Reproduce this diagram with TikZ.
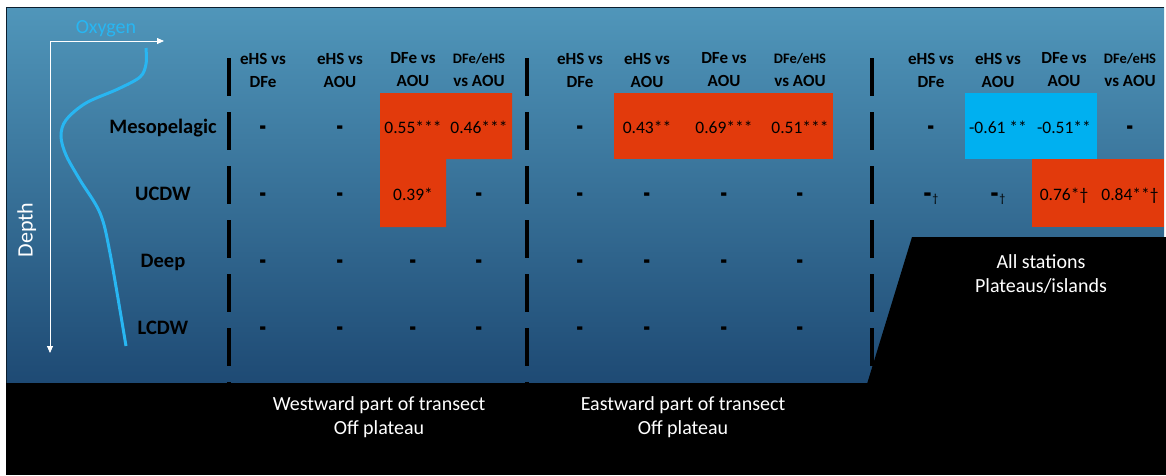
\documentclass[tikz,border=0pt]{standalone}
\usepackage{fontspec}
\usepackage{graphicx}
\setmainfont{Carlito}
\usetikzlibrary{arrows.meta}
\definecolor{naranja}{RGB}{226,58,12}
\definecolor{celeste}{RGB}{0,176,240}
\definecolor{azulOx}{RGB}{40,182,242}
\definecolor{marArriba}{RGB}{80,150,186}
\definecolor{marAbajo}{RGB}{30,74,116}
\tikzset{
  cabecera/.style={align=center, font=\fontsize{17}{23}\selectfont\bfseries},
  capa/.style={anchor=base, font=\fontsize{20.5}{24}\selectfont\bfseries},
  valor/.style={anchor=base, font=\fontsize{17.5}{20}\selectfont},
  nada/.style={anchor=base, font=\fontsize{17.5}{20}\selectfont\bfseries},
  rotulo/.style={align=center, text=white, font=\fontsize{20}{24}\selectfont},
  separador/.style={line width=4pt, dash pattern=on 38pt off 16pt},
}
\newcommand{\raya}{\raisebox{-5.5pt}{\scalebox{0.85}[2.2]{–}}}
\newcommand{\cruz}{{\fontsize{12}{12}\selectfont\mdseries\raisebox{-2.5pt}{†}}}

\begin{document}
\begin{tikzpicture}[x=1pt,y=-1pt]
\useasboundingbox (0,0) rectangle (1166,475);
% fondo: agua con degradado
\shade[top color=marArriba, bottom color=marAbajo] (6,7) rectangle (1164,383);
\draw[line width=1pt, draw=black!60!marAbajo] (6,383) -- (6,7) -- (1164,7);
% separadores de grupos
\foreach \x in {229,527,872} {
    \draw[separador] (\x,58) -- (\x,386);
}
% cajas de color
\fill[naranja] (380,93) -- (512,93) -- (512,159) -- (446,159) -- (446,227) -- (380,227) -- cycle;
\fill[naranja] (614,93) rectangle (833,159);
\fill[celeste] (965,93) rectangle (1097,159);
\fill[naranja] (1032,159) rectangle (1164,227);
% fondo negro y meseta
\fill[black] (6,383) rectangle (1166,475);
\fill[black] (867,384) -- (912,237) -- (1166,237) -- (1166,384) -- cycle;
% ejes oxigeno / profundidad
\coordinate (origen) at (50,41);
\coordinate (finOx) at (164,41);
\coordinate (finZ) at (50,353);
\draw[white, line width=0.8pt, -{Triangle[length=7pt,width=6pt]}] (origen) -- (finOx);
\draw[white, line width=0.8pt, -{Triangle[length=7pt,width=6pt]}] (origen) -- (finZ);
\node[anchor=base, text=azulOx, font=\fontsize{20}{24}\selectfont] (oxy) at (106,33) {Oxygen};
\node[anchor=base, rotate=90, text=white, font=\fontsize{22}{24}\selectfont] (prof) at (32.5,230) {Depth};
\draw[azulOx, line width=3pt] plot[smooth, tension=0.55] coordinates {(146,48) (146,64) (140,77) (118,89) (86,103) (66,120) (61,136) (66,155) (80,180) (100,213) (110,253) (126,346)};
% capas de agua
\foreach \y/\nombre/\n in {133/Mesopelagic/meso, 200/UCDW/ucdw, 267/Deep/deep, 334/LCDW/lcdw} {
    \node[capa] (\n) at (163,\y) {\nombre};
}
% cabeceras de columnas
\foreach \g/\a/\b/\c/\d in {w/263/340/413/479, e/580/647/724/800, p/931/998/1064/1130} {
    \node[cabecera] (\g-h1) at (\a,70) {eHS vs\\DFe};
    \node[cabecera] (\g-h2) at (\b,70) {eHS vs\\AOU};
    \node[cabecera] (\g-h3) at (\c,70) {DFe vs\\AOU};
    \node[cabecera] (\g-h4) at (\d,70) {{\fontsize{14.5}{23}\selectfont DFe/eHS}\\vs AOU};
}
% A: parte oeste
\node[nada] (w-m1) at (263,133) {\raya};
\node[nada] (w-m2) at (340,133) {\raya};
\node[valor] (w-m3) at (413,133) {0.55***};
\node[valor] (w-m4) at (479,133) {0.46***};
\node[nada] (w-u1) at (263,200) {\raya};
\node[nada] (w-u2) at (340,200) {\raya};
\node[valor] (w-u3) at (413,200) {0.39*};
\node[nada] (w-u4) at (479,200) {\raya};
% B: parte este
\node[nada] (e-m1) at (580,133) {\raya};
\node[valor] (e-m2) at (647,133) {0.43**};
\node[valor] (e-m3) at (724,133) {0.69***};
\node[valor] (e-m4) at (800,133) {0.51***};
\foreach \x [count=\i] in {580,647,724,800} {
    \node[nada] (e-u\i) at (\x,200) {\raya};
}
% capas profundas (oeste y este)
\foreach \x [count=\i] in {263,340,413,479,580,647,724,800} {
    \node[nada] (deep-\i) at (\x,267) {\raya};
    \node[nada] (lcdw-\i) at (\x,334) {\raya};
}
% C: mesetas / islas
\node[nada] (p-m1) at (931,133) {\raya};
\node[valor] (p-m2) at (998,133) {-0.61 **};
\node[valor] (p-m3) at (1064,133) {-0.51**};
\node[nada] (p-m4) at (1130,133) {\raya};
\node[nada] (p-u1) at (931,200) {\scalebox{1.2}[1]{\raya}\cruz};
\node[nada] (p-u2) at (998,200) {\scalebox{1.2}[1]{\raya}\cruz};
\node[valor] (p-u3) at (1064,200) {0.76*†};
\node[valor] (p-u4) at (1130,200) {0.84**†};
% rotulos de abajo
\node[rotulo] (oeste) at (379,417) {Westward part of transect\\Off plateau};
\node[rotulo] (este) at (683,417) {Eastward part of transect\\Off plateau};
\node[rotulo] (meseta) at (1041,274) {All stations\\Plateaus/islands};
\end{tikzpicture}
\end{document}
